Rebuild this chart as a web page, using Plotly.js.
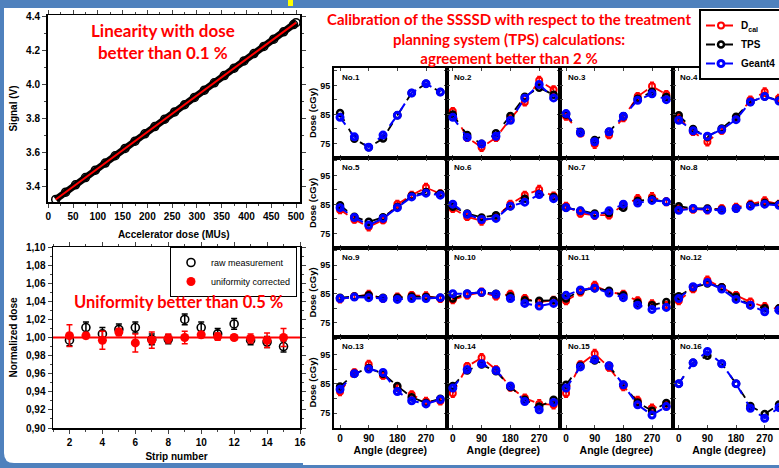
<!DOCTYPE html>
<html><head><meta charset="utf-8">
<script src="https://cdn.plot.ly/plotly-3.0.1.min.js"></script>
<style>html,body{margin:0;padding:0;overflow:hidden;background:#fff}#g{width:790px;height:468px}</style>
</head><body><div id="g"></div>
<script>
// ---------------- DATA ----------------
// Linearity: signal vs accelerator dose
const linDose   = [15,35,55,75,95,115,135,155,175,195,215,235,255,275,295,315,335,355,375,395,415,435,455,475,495,500];
const linSignal = [3.325,3.368,3.411,3.454,3.497,3.539,3.582,3.625,3.668,3.711,3.754,3.797,3.840,3.882,3.925,3.968,4.011,4.054,4.097,4.140,4.183,4.225,4.268,4.311,4.354,4.365];
const linFitDose   = [15, 500];
const linFitSignal = [3.325, 4.365];

// Uniformity: normalized dose per strip
const strips   = [2,3,4,5,6,7,8,9,10,11,12,13,14,15];
const rawDose  = [0.997,1.011,1.004,1.009,1.011,0.998,0.998,1.020,1.011,1.004,1.015,0.997,0.995,0.990];
const rawErr   = [0.006,0.006,0.007,0.006,0.006,0.006,0.005,0.006,0.006,0.006,0.006,0.005,0.006,0.006];
const corrDose = [1.002,1.002,0.997,1.006,0.994,0.997,0.999,1.000,1.003,1.001,1.000,0.999,0.997,1.000];
const corrErr  = [0.012,0.003,0.010,0.004,0.010,0.009,0.005,0.007,0.003,0.004,0.003,0.005,0.008,0.010];
const uniformRef = 1.00;
const uniYTicks = [0.90,0.92,0.94,0.96,0.98,1.00,1.02,1.04,1.06,1.08,1.10];
const uniXTicks = [2,4,6,8,10,12,14,16];
const linXTicks = [0,50,100,150,200,250,300,350,400,450,500];
const linYTicks = [3.4,3.6,3.8,4.0,4.2,4.4];

// Calibration panels: dose (cGy) vs gantry angle
const angles = [0,45,90,135,180,225,270,315];
const panelNames = ['No.1','No.2','No.3','No.4','No.5','No.6','No.7','No.8','No.9','No.10','No.11','No.12','No.13','No.14','No.15','No.16'];
const dcal = [
  null,
  [86.0,77.0,73.7,77.0,83.5,89.3,96.7,93.5],
  [84.4,78.5,74.8,77.9,83.9,91.2,94.7,91.9],
  [83.9,79.0,75.6,79.5,83.6,90.0,92.7,90.6],
  [83.2,79.8,77.3,79.6,85.1,88.2,90.8,88.7],
  [83.6,80.8,79.3,80.6,85.1,88.2,90.1,87.9],
  [84.4,81.9,81.3,81.3,84.8,87.0,87.6,85.9],
  [83.6,83.3,83.2,83.6,84.0,85.1,86.2,85.1],
  [83.2,84.1,84.8,83.4,83.9,84.5,84.3,83.4],
  [83.0,84.5,85.6,84.2,84.9,83.4,82.2,82.8],
  [82.6,85.6,87.9,85.6,84.9,82.6,81.5,81.1],
  [82.6,86.7,89.8,87.3,84.5,82.2,80.5,79.8],
  [82.4,88.9,91.6,87.9,83.9,81.3,79.0,79.2],
  [81.8,91.0,93.9,89.9,83.9,80.2,78.2,77.9],
  [81.8,91.6,95.3,90.6,84.1,79.4,76.7,77.6],
  null
];
const dcalErr = [1.3,1.2,1.4,1.2,1.3,1.3,1.4,1.3];
const tps = [
  [85.5,76.6,73.7,76.7,84.7,92.4,95.6,92.7],
  [85.0,77.9,74.9,78.5,84.5,91.1,94.2,91.8],
  [85.0,79.0,76.2,79.0,84.4,90.4,92.8,91.0],
  [84.7,80.0,77.3,80.2,84.2,89.3,91.2,89.8],
  [84.7,80.8,79.0,80.6,84.1,87.9,89.3,88.7],
  [84.2,81.9,80.5,81.3,84.4,87.0,88.6,87.6],
  [83.9,82.8,81.9,82.1,83.9,86.2,86.8,85.9],
  [84.4,83.6,83.6,83.2,83.6,84.7,85.5,85.1],
  [83.7,84.1,84.5,83.7,83.7,84.1,83.9,83.7],
  [83.4,85.1,85.6,85.1,84.2,82.8,82.6,82.8],
  [83.4,86.1,87.0,86.1,84.5,81.9,81.1,82.2],
  [84.2,87.3,88.6,87.3,84.0,81.1,80.0,80.0],
  [84.1,88.5,90.4,88.5,84.3,80.5,78.5,80.0],
  [84.3,89.6,91.6,89.3,84.0,79.6,77.3,79.6],
  [84.7,91.2,93.0,91.2,84.7,78.7,75.9,78.5],
  [85.1,92.2,94.6,91.9,85.1,77.5,74.8,78.0]
];
const geant4 = [
  [84.0,77.3,73.7,77.9,84.7,92.4,95.6,92.7],
  [84.0,77.1,74.8,77.5,83.0,90.6,95.3,90.7],
  [85.3,78.7,75.6,79.0,84.4,89.9,92.1,90.1],
  [83.0,79.4,77.5,79.8,83.2,89.3,91.2,89.6],
  [83.9,80.5,77.9,80.2,83.9,87.6,88.9,88.2],
  [85.1,81.6,79.8,80.2,84.4,85.8,88.4,87.0],
  [83.9,82.8,81.3,82.8,85.1,85.5,86.4,85.9],
  [83.0,83.6,83.2,83.0,83.6,84.4,85.1,84.7],
  [83.4,83.9,83.7,83.4,83.1,83.4,83.4,83.7],
  [85.1,85.1,85.6,84.9,83.4,81.7,80.8,81.7],
  [84.5,86.4,87.0,85.3,83.7,81.1,79.6,80.3],
  [83.4,87.5,89.0,86.7,83.1,81.1,78.8,79.3],
  [83.2,88.5,90.1,88.9,82.4,79.3,78.2,79.7],
  [83.6,89.9,91.9,89.6,84.3,79.0,76.2,78.7],
  [83.6,90.8,93.3,91.2,84.7,77.9,74.4,77.3],
  [85.1,92.2,96.1,91.9,85.1,76.7,73.3,77.0]
];
const panelXTicks = [0,90,180,270];
const panelYTicks = [75,85,95];

// ---------------- GEOMETRY / STYLE ----------------
const W = 790, H = 468;
const fx = p => p / W, fy = p => 1 - p / H;
const AX = 'Liberation Sans, Arial, sans-serif';
const TF = 'Lato, sans-serif';
const RED = '#ff0000', BLUE = '#0000ff', BLK = '#000000';
const colX = [334, 446.7, 560, 672.7, 785.4];
const rowY = [68, 158, 248, 337, 428];

const traces = [];
// Linearity
traces.push({x: linDose, y: linSignal, xaxis:'x', yaxis:'y', mode:'lines+markers', showlegend:false,
  line:{color:BLK, width:7}, marker:{symbol:'circle-open', size:8, color:BLK, line:{width:1.5}}});
traces.push({x: linFitDose, y: linFitSignal, xaxis:'x', yaxis:'y', mode:'lines', showlegend:false,
  line:{color:RED, width:2}});
// Uniformity
traces.push({x: strips, y: rawDose, xaxis:'x2', yaxis:'y2', mode:'markers', name:'raw measurement', legend:'legend',
  marker:{symbol:'circle-open', size:8, color:BLK, line:{width:1.6}},
  error_y:{type:'data', array: rawErr, color:BLK, thickness:1.5, width:3}});
traces.push({x: strips, y: corrDose, xaxis:'x2', yaxis:'y2', mode:'markers', name:'uniformity corrected', legend:'legend',
  marker:{symbol:'circle', size:9, color:RED},
  error_y:{type:'data', array: corrErr, color:RED, thickness:1.5, width:3}});

// Panels
const layout = {
  width: W, height: H, margin:{l:0,r:0,t:0,b:0},
  paper_bgcolor:'#4F81BD', plot_bgcolor:'rgba(0,0,0,0)',
  font:{family:AX, color:BLK},
  showlegend:true,
  legend:{x:fx(170), y:fy(247), xanchor:'left', yanchor:'top', bgcolor:'#fff', bordercolor:BLK, borderwidth:1,
    font:{family:AX, size:9}, tracegroupgap:0},
  legend2:{x:fx(699), y:fy(9), xanchor:'left', yanchor:'top', bgcolor:'#fff', bordercolor:BLK, borderwidth:2,
    font:{family:AX, size:10, weight:'bold'}, tracegroupgap:0},
  shapes:[
    {type:'rect', xref:'paper', yref:'paper', x0:fx(303), x1:1, y0:fy(465), y1:fy(8), fillcolor:'#fff', line:{width:0}, layer:'below'},
    {type:'path', xref:'paper', yref:'paper', layer:'below', fillcolor:'#fff', line:{width:0},
      path:`M ${fx(4)} ${fy(8)} L ${fx(310)} ${fy(8)} L ${fx(310)} ${fy(463)} L ${fx(14)} ${fy(463)} Q ${fx(4)} ${fy(463)} ${fx(4)} ${fy(453)} Z`},
    {type:'rect', xref:'paper', yref:'paper', x0:fx(288), x1:fx(293), y0:fy(6), y1:1, fillcolor:'#ffff00', line:{width:0}, layer:'below'},
    {type:'line', xref:'x2 domain', yref:'y2', x0:0, x1:1, y0:uniformRef, y1:uniformRef, line:{color:RED, width:2}}
  ],
  annotations:[
    {xref:'paper', yref:'paper', x:fx(163), y:fy(41), xanchor:'center', yanchor:'middle', showarrow:false,
      text:'Linearity with dose<br>better than 0.1 %', font:{family:TF, size:17, weight:'bold', color:RED}},
    {xref:'paper', yref:'paper', x:fx(178), y:fy(302), xanchor:'center', yanchor:'middle', showarrow:false,
      text:'Uniformity better than 0.5 %', font:{family:TF, size:16.5, weight:'bold', color:RED}},
    {xref:'paper', yref:'paper', x:fx(509), y:fy(38.5), xanchor:'center', yanchor:'middle', showarrow:false,
      text:'Calibration of the SSSSD with respect to the treatment<br>planning system (TPS) calculations:<br>agreement better than 2 %',
      font:{family:TF, size:15, weight:'bold', color:RED}}
  ],
  xaxis:{domain:[fx(47.5), fx(300)], anchor:'y', range:[-1.6, 508], tickvals:linXTicks, ticks:'outside', ticklen:4,
    showline:true, linewidth:1.5, linecolor:BLK, mirror:'ticks', showgrid:false, zeroline:false,
    minor:{ticks:'outside', dtick:25, ticklen:2},
    tickfont:{family:AX, size:10, weight:'bold'},
    title:{text:'Accelerator dose (MUs)', font:{family:AX, size:10, weight:'bold'}, standoff:10}},
  yaxis:{domain:[fy(202), fy(15)], anchor:'x', range:[3.31, 4.41], tickvals:linYTicks, ticktext:linYTicks.map(v=>v.toFixed(1)),
    ticks:'outside', ticklen:4, showline:true, linewidth:1.5, linecolor:BLK, mirror:'ticks', showgrid:false, zeroline:false,
    minor:{ticks:'outside', dtick:0.1, ticklen:2},
    tickfont:{family:AX, size:10, weight:'bold'},
    title:{text:'Signal (V)', font:{family:AX, size:10, weight:'bold'}, standoff:6}},
  xaxis2:{domain:[fx(53), fx(300)], anchor:'y2', range:[1, 16], tickvals:uniXTicks, ticks:'outside', ticklen:4,
    showline:true, linewidth:1.5, linecolor:BLK, mirror:'ticks', showgrid:false, zeroline:false,
    minor:{ticks:'outside', dtick:1, ticklen:2},
    tickfont:{family:AX, size:10, weight:'bold'},
    title:{text:'Strip number', font:{family:AX, size:10, weight:'bold'}, standoff:6}},
  yaxis2:{domain:[fy(428), fy(247)], anchor:'x2', range:[0.9, 1.1], tickvals:uniYTicks, ticktext:uniYTicks.map(v=>v.toFixed(2).replace('.',',')),
    ticks:'outside', ticklen:4, showline:true, linewidth:1.5, linecolor:BLK, mirror:'ticks', showgrid:false, zeroline:false,
    minor:{ticks:'outside', dtick:0.01, ticklen:2},
    tickfont:{family:AX, size:10, weight:'bold'},
    title:{text:'Normalized dose', font:{family:AX, size:10, weight:'bold'}, standoff:6}}
};

for (let i = 0; i < 16; i++) {
  const k = i + 3, row = Math.floor(i / 4), col = i % 4;
  const xa = 'x' + k, ya = 'y' + k;
  if (dcal[i]) traces.push({x: angles, y: dcal[i], xaxis: xa, yaxis: ya, mode:'lines+markers', name:'D<sub>cal</sub>',
    legend:'legend2', legendrank:1, showlegend: i === 1,
    line:{color:RED, width:1.8, dash:'dash'}, marker:{symbol:'circle-open', size:6, color:RED, line:{width:2}},
    error_y:{type:'data', array: dcalErr, color:RED, thickness:1.5, width:2}});
  traces.push({x: angles, y: tps[i], xaxis: xa, yaxis: ya, mode:'lines+markers', name:'TPS',
    legend:'legend2', legendrank:2, showlegend: i === 1,
    line:{color:BLK, width:1.8, dash:'dash'}, marker:{symbol:'circle-open', size:6, color:BLK, line:{width:2.5}}});
  traces.push({x: angles, y: geant4[i], xaxis: xa, yaxis: ya, mode:'lines+markers', name:'Geant4',
    legend:'legend2', legendrank:3, showlegend: i === 1,
    line:{color:BLUE, width:2, dash:'dash'}, marker:{symbol:'circle-open', size:6, color:BLUE, line:{width:3}}});

  const xax = {domain:[fx(colX[col]), fx(colX[col + 1])], anchor: ya, range:[-19, 335],
    tickvals: panelXTicks, ticks:'inside', ticklen:3, showticklabels: row === 3,
    showline:true, linewidth:2, linecolor:BLK, mirror:'ticks', showgrid:false, zeroline:false,
    tickfont:{family:AX, size:10, weight:'bold'}};
  if (row === 3) xax.title = {text:'Angle (degree)', font:{family:AX, size:10.5, weight:'bold'}, standoff:2};
  const yax = {domain:[fy(rowY[row + 1]), fy(rowY[row])], anchor: xa, range:[70, 101],
    tickvals: panelYTicks, ticks:'inside', ticklen:3, showticklabels: col === 0,
    minor:{ticks:'inside', tick0:0, dtick:5, ticklen:3},
    showline:true, linewidth:2, linecolor:BLK, mirror:'ticks', showgrid:false, zeroline:false,
    tickfont:{family:AX, size:9, weight:'bold'}};
  if (col === 0) yax.title = {text:'Dose (cGy)', font:{family:AX, size:9.5, weight:'bold'}, standoff:2};
  layout['xaxis' + k] = xax;
  layout['yaxis' + k] = yax;
  layout.annotations.push({xref: xa + ' domain', yref: ya + ' domain', x:0.05, y:0.97, xanchor:'left', yanchor:'top',
    showarrow:false, text: panelNames[i], font:{family:AX, size:8, weight:'bold'}});
}

Plotly.newPlot('g', traces, layout, {staticPlot:true});
</script>
</body></html>
